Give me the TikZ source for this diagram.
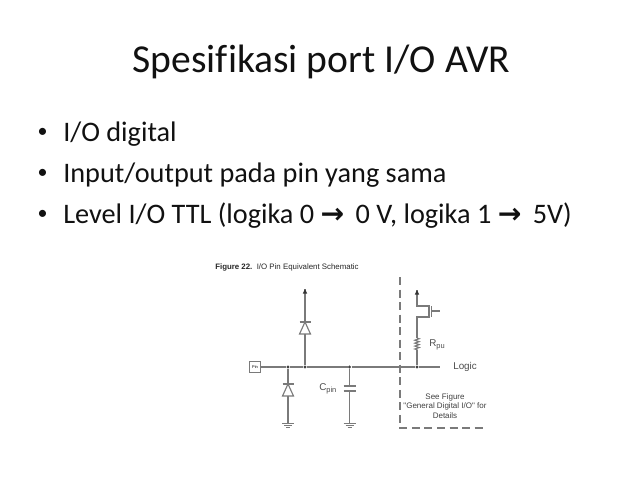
\documentclass[tikz,border=0pt]{standalone}
\usepackage{fontspec}
\setmainfont{Carlito}[Ligatures=CommonOff]
\newfontfamily\figfont{Liberation Sans}
\newfontfamily\arrowfont{DejaVu Sans}
\usetikzlibrary{math}
\usetikzlibrary{calc}
\usetikzlibrary{positioning}
\usetikzlibrary{decorations.pathmorphing}
\definecolor{wirecol}{HTML}{7A7A7A}
\definecolor{textcol}{HTML}{111111}
\newcommand{\tinysub}[1]{\raisebox{-0.35ex}{\fontsize{5.6}{6}\selectfont #1}}
\newcommand{\slidearrow}{{\arrowfont\bfseries →}\hspace{3.7pt}}
\tikzset{
  wire/.style={draw=wirecol, line width=0.85pt},
  thinwire/.style={draw=wirecol, line width=0.6pt},
  junction/.style={circle, fill=black!75, inner sep=0pt, minimum size=2.6pt},
  figtext/.style={font=\figfont\fontsize{6}{7.2}\selectfont, text=black!75, inner sep=0pt, align=center},
  labeltext/.style={font=\figfont\fontsize{7.4}{8}\selectfont, text=black!70, inner sep=0pt, anchor=west},
  bodyline/.style={font=\fontsize{21.2}{25}\selectfont, text=textcol, anchor=base west, inner sep=0pt},
  bulletdot/.style={font=\fontsize{15}{17}\selectfont, text=textcol, anchor=base, inner sep=0pt},
}
\begin{document}
\begin{tikzpicture}[x=0.75pt,y=-0.75pt]

  \tikzmath{
    \wirey   = 367; % height of the main wire
    \diodew  = 5.5; % half width of a diode
    \capw    = 6;   % half width of the capacitor plates
    \gndy    = 423; % height of the ground symbols
  }

  \useasboundingbox (0,0) rectangle (638,479);

  % Slide text
  \node[font=\fontsize{29.7}{34}\selectfont, text=textcol, anchor=base, inner sep=0pt] (title) at (321.5,72) {Spesifikasi port I/O AVR};

  \node[bulletdot] (b1) at (42.7,137) {•};
  \node[bulletdot] (b2) at (42.7,178) {•};
  \node[bulletdot] (b3) at (42.7,219) {•};
  \node[bodyline] (l1) at (63,141) {I/O digital};
  \node[bodyline] (l2) at (63,182) {Input/output pada pin yang sama};
  \node[bodyline] (l3) at (63,223) {Level I/O TTL (logika 0 \slidearrow{} 0 V, logika 1 \slidearrow{} 5V)};

  % Caption of the schematic
  \node[figtext, anchor=west, font=\figfont\fontsize{5.9}{7}\selectfont, text=black!85] (caption) at (215,267) {\textbf{Figure 22.}\ \ I/O Pin Equivalent Schematic};

  % Main wire
  \node[draw=wirecol, line width=0.9pt, inner sep=0pt, minimum width=8.6pt, minimum height=8.2pt, font=\figfont\fontsize{3}{3}\selectfont] (pin) at (255,\wirey) {Pin};
  \node[junction] (j1) at (288,\wirey) {};
  \node[junction] (j2) at (305,\wirey) {};
  \node[junction] (j3) at (349.5,\wirey) {};
  \node[junction] (j4) at (417,\wirey) {};
  \coordinate (wireend) at (440,\wirey);
  \draw[wire] (pin) -- (j1) -- (j2) -- (j3) -- (j4) -- (wireend);
  \node[labeltext] (logic) at (453,\wirey) {Logic};

  % Upper diode
  \coordinate (dUtop) at (305,322);
  \coordinate (dUbase) at (305,334);
  \coordinate (vccL) at (305,289);
  \draw[wire] (j2) -- (dUbase);
  \draw[wire] (dUtop) -- (vccL);
  \draw[wire] (dUtop) -- ($(dUbase)+(-\diodew,0)$) -- ($(dUbase)+(\diodew,0)$) -- cycle;
  \draw[wire] ($(dUtop)+(-\diodew,0)$) -- ($(dUtop)+(\diodew,0)$);
  \fill[black!80] (vccL) -- ++(2.2,4.5) -- ++(-4.4,0) -- cycle;

  % Lower diode
  \coordinate (dLtop) at (288,384);
  \coordinate (dLbase) at (288,396);
  \coordinate (gndA) at (288,\gndy);
  \draw[wire] (j1) -- (dLtop);
  \draw[wire] (dLbase) -- (gndA);
  \draw[wire] (dLtop) -- ($(dLbase)+(-\diodew,0)$) -- ($(dLbase)+(\diodew,0)$) -- cycle;
  \draw[wire] ($(dLtop)+(-\diodew,0)$) -- ($(dLtop)+(\diodew,0)$);

  % Capacitor
  \coordinate (capT) at (349.5,386);
  \coordinate (capB) at (349.5,391);
  \coordinate (gndB) at (349.5,\gndy);
  \draw[wire] (j3) -- (capT);
  \draw[wire] (capB) -- (gndB);
  \draw[wire] ($(capT)+(-\capw,0)$) -- ($(capT)+(\capw,0)$);
  \draw[wire] ($(capB)+(-\capw,0)$) -- ($(capB)+(\capw,0)$);
  \node[labeltext] (cpin) at (319,389) {C\tinysub{pin}};

  % Ground symbols
  \foreach \gnd in {gndA,gndB} {
    \draw[thinwire] ($(\gnd)+(-6,0)$) -- ($(\gnd)+(6,0)$);
    \draw[thinwire] ($(\gnd)+(-4,2)$) -- ($(\gnd)+(4,2)$);
    \draw[thinwire] ($(\gnd)+(-2,4)$) -- ($(\gnd)+(2,4)$);
  }

  % Pull-up transistor and resistor
  \coordinate (vccR) at (417,290);
  \coordinate (mosA) at (417,306);
  \coordinate (mosB) at (429,306);
  \coordinate (mosC) at (429,317);
  \coordinate (mosD) at (417,317);
  \coordinate (gateT) at (431.5,306);
  \coordinate (gateB) at (431.5,317);
  \coordinate (gateM) at (431.5,311);
  \coordinate (gateE) at (440,311);
  \coordinate (resT) at (417,338);
  \coordinate (resB) at (417,350);
  \draw[wire] (vccR) -- (mosA) -- (mosB) -- (mosC) -- (mosD) -- (resT);
  \draw[wire] (gateT) -- (gateB);
  \draw[wire] (gateM) -- (gateE);
  \draw[wire, decorate, decoration={zigzag, segment length=2.2pt, amplitude=1.6pt}] (resT) -- (resB);
  \draw[wire] (resB) -- (j4);
  \fill[black!80] (vccR) -- ++(2.2,4.5) -- ++(-4.4,0) -- cycle;
  \node[labeltext] (rpu) at (429,345) {R\tinysub{pu}};

  % Dashed boundary
  \coordinate (dashT) at (400,277);
  \coordinate (dashC) at (400,428);
  \coordinate (dashE) at (485,428);
  \draw[draw=wirecol, line width=0.85pt, dash pattern=on 6pt off 3.4pt] (dashT) -- (dashC) -- (dashE);

  \node[figtext] (note) at (445,406) {See Figure\\"General Digital I/O" for\\Details};

\end{tikzpicture}
\end{document}
